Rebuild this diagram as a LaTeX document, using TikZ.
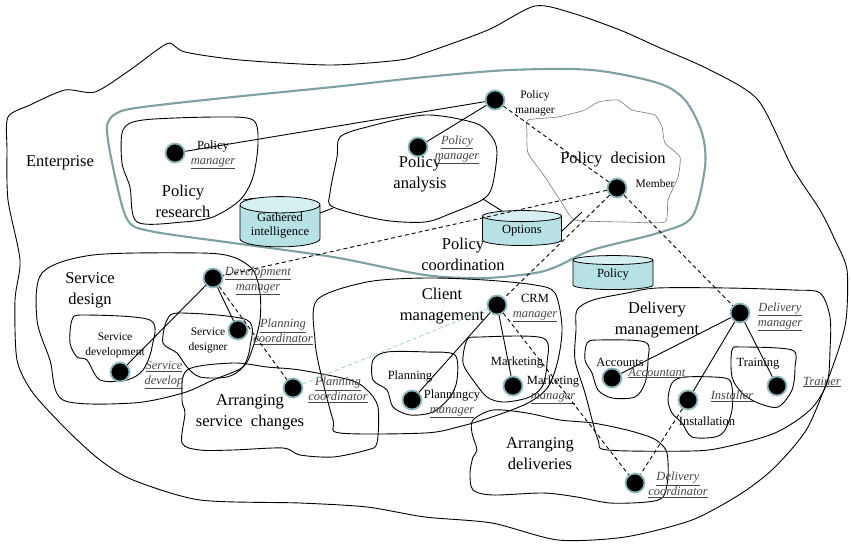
\documentclass[tikz,border=0pt]{standalone}
\usepackage{fontspec}
\setmainfont{Liberation Serif}
\usetikzlibrary{shapes.geometric}

\definecolor{halo}{RGB}{140,185,190}
\definecolor{coord}{RGB}{125,160,163}
\definecolor{cylbody}{RGB}{183,225,229}
\definecolor{cyltop}{RGB}{214,239,241}
\definecolor{softdash}{RGB}{165,212,218}
\definecolor{rolegrey}{RGB}{70,70,70}
\definecolor{decgrey}{RGB}{120,120,120}

\newcommand{\rolename}[1]{\underline{\textit{#1}}}

\tikzset{
  area/.style={draw=black, line width=0.9pt, line join=round},
  thinarea/.style={draw=decgrey, line width=0.6pt, line join=round},
  coordarea/.style={draw=coord, line width=2.1pt, line join=round},
  actor/.style={circle, fill=black, draw=halo, line width=1.8pt, minimum size=19pt, inner sep=0pt},
  store/.style={cylinder, shape border rotate=90, aspect=0.28, draw=black, line width=0.8pt,
    cylinder uses custom fill, cylinder body fill=cylbody, cylinder end fill=cyltop,
    minimum width=80pt, minimum height=34pt, inner sep=0pt, align=center,
    font=\fontsize{12.5}{14}\selectfont},
  bigtxt/.style={align=center, inner sep=0pt, font=\fontsize{16.5}{21}\selectfont},
  smalltxt/.style={align=center, inner sep=0pt, font=\fontsize{12.5}{15}\selectfont},
  roletxt/.style={align=center, inner sep=0pt, text=rolegrey, font=\fontsize{12.5}{15}\selectfont},
  link/.style={draw=black, line width=0.9pt},
  duty/.style={draw=black, line width=0.9pt, dash pattern=on 4pt off 3pt},
  softlink/.style={draw=softdash, line width=0.9pt, dash pattern=on 4pt off 3pt},
}

\begin{document}
\begin{tikzpicture}[x=1pt, y=-1pt]
\useasboundingbox[fill=white] (0,0) rectangle (851,547);

% ---- enterprise boundary ----
\draw[area, smooth cycle, tension=0.45] plot coordinates {
 (8,117) (30,105) (65,90) (95,92) (130,70) (157,50) (170,43) (185,52) (240,60) (330,65)
 (400,60) (425,53) (488,30) (535,6) (572,13) (620,30) (658,47) (710,70) (758,100)
 (792,167) (820,210) (835,240) (847,270) (846,320) (835,360) (808,427) (775,467)
 (742,493) (692,520) (625,537) (558,540) (492,523) (425,517) (367,507) (300,503)
 (200,500) (133,480) (100,460) (67,430) (33,393) (17,360) (15,300) (20,260) (8,200) (7,150)};

% ---- policy coordination ----
\draw[coordarea, smooth cycle, tension=0.5] plot coordinates {
 (107,127) (117,113) (143,107) (233,97) (333,87) (425,77) (510,70) (592,70) (658,83)
 (685,100) (702,133) (705,167) (692,217) (658,233) (592,250) (558,266) (535,273)
 (485,278) (425,275) (333,257) (233,243) (150,231) (127,219) (113,167)};

\draw[area, smooth cycle, tension=0.5] plot coordinates {
 (123,130) (143,120) (217,117) (253,120) (258,143) (253,177) (240,200) (213,217)
 (183,222) (137,222) (130,187) (122,163)};
\draw[area, smooth cycle, tension=0.5] plot coordinates {
 (340,137) (367,127) (425,115) (475,123) (492,137) (497,153) (492,187) (482,200)
 (452,213) (425,222) (383,220) (333,207) (330,193) (337,157)};
\draw[thinarea, smooth cycle, tension=0.3] plot coordinates {
 (528,120) (558,117) (585,110) (598,102) (618,100) (632,110) (655,115) (662,127)
 (665,143) (680,157) (678,177) (668,200) (665,222) (625,222) (575,220) (562,203)
 (545,177) (528,153) (527,133)};

% ---- service design ----
\draw[area, smooth cycle, tension=0.5] plot coordinates {
 (42,273) (93,255) (200,253) (233,257) (253,270) (260,293) (260,320) (253,347)
 (243,367) (213,380) (183,393) (133,403) (63,400) (50,360) (37,320)};
\draw[area, smooth cycle, tension=0.5] plot coordinates {
 (70,343) (72,320) (83,315) (150,320) (152,347) (143,370) (127,380) (100,380)
 (87,360) (77,357)};
\draw[area, smooth cycle, tension=0.5] plot coordinates {
 (163,343) (167,320) (180,313) (247,320) (250,347) (243,367) (227,377) (200,377)
 (187,367) (177,353)};
\draw[area, smooth cycle, tension=0.5] plot coordinates {
 (182,400) (187,370) (233,363) (267,367) (300,370) (350,380) (367,390) (378,407)
 (377,443) (367,450) (333,457) (300,455) (283,448) (233,450) (200,450) (182,443) (185,413)};

% ---- client management ----
\draw[area, smooth cycle, tension=0.5] plot coordinates {
 (317,300) (367,282) (425,278) (485,280) (535,285) (555,293) (562,327) (558,360)
 (548,387) (528,403) (492,417) (458,427) (425,433) (340,433) (333,420) (320,370) (315,340)};
\draw[area, smooth cycle, tension=0.5] plot coordinates {
 (373,380) (373,360) (387,352) (427,352) (455,355) (457,380) (450,397) (433,412)
 (410,415) (393,407) (387,390)};
\draw[area, smooth cycle, tension=0.5] plot coordinates {
 (463,363) (467,340) (480,337) (543,338) (547,363) (542,387) (527,398) (503,402)
 (487,397) (473,380)};

% ---- delivery management ----
\draw[area, smooth cycle, tension=0.5] plot coordinates {
 (577,310) (593,300) (627,293) (657,288) (727,288) (793,290) (820,293) (830,317)
 (830,350) (827,383) (810,410) (775,433) (725,447) (692,451) (608,450) (598,440)
 (585,393) (575,360) (576,330)};
\draw[area, smooth cycle, tension=0.5] plot coordinates {
 (585,360) (587,343) (598,340) (645,342) (648,360) (645,383) (635,397) (612,398)
 (598,390) (592,373)};
\draw[area, smooth cycle, tension=0.5] plot coordinates {
 (668,400) (672,383) (685,377) (725,378) (732,387) (732,410) (725,430) (715,437)
 (692,437) (682,423) (672,413)};
\draw[area, smooth cycle, tension=0.5] plot coordinates {
 (732,377) (732,350) (742,347) (792,350) (795,367) (792,390) (778,407) (758,403) (742,393)};
\draw[area, smooth cycle, tension=0.5] plot coordinates {
 (473,420) (493,410) (527,413) (560,420) (593,423) (627,430) (650,437) (660,443)
 (667,453) (668,477) (663,497) (647,502) (610,503) (577,497) (543,493) (493,495)
 (473,490) (470,473) (473,457) (477,450) (472,433)};

% ---- information stores ----
\node[store] (gath) at (280,226) {Gathered\\intelligence};
\node[store, minimum width=79pt, minimum height=35pt] (opts) at (522,231) {Options};
\node[store] (pol) at (613,275) {Policy};

\coordinate (resEdge) at (243,200);
\coordinate (anaEdgeL) at (333,208);
\coordinate (anaEdgeR) at (483,199);
\coordinate (decEdge) at (582,212);
\coordinate (gathR) at (320,213);
\draw[link] (resEdge) -- (gath.north west);
\draw[link] (gathR) -- (anaEdgeL);
\draw[link] (anaEdgeR) -- (opts.north west);
\draw[link] (opts.east) -- (decEdge);

% ---- region titles ----
\node[bigtxt] (tEnt) at (60,163) {Enterprise};
\node[bigtxt] (tRes) at (183,201) {Policy\\research};
\node[bigtxt] (tAna) at (420,174) {Policy\\analysis};
\node[bigtxt] (tDec) at (613,160) {Policy\ \ decision};
\node[bigtxt] (tCoo) at (463,254) {Policy\\coordination};
\node[bigtxt] (tSd) at (90,290) {Service\\design};
\node[bigtxt] (tAsc) at (250,412) {Arranging\\service\ \ changes};
\node[bigtxt] (tCli) at (442,306) {Client\\management};
\node[bigtxt] (tDel) at (657,320) {Delivery\\management};
\node[bigtxt] (tArd) at (540,454) {Arranging\\deliveries};
\node[smalltxt, font=\fontsize{11.5}{15}\selectfont] (tSdv) at (115,345) {Service\\development};
\node[smalltxt, font=\fontsize{11.5}{15}\selectfont] (tSdr) at (208,340) {Service\\designer};
\node[smalltxt] (tPla) at (410,377) {Planning};
\node[smalltxt] (tMkt) at (517,363) {Marketing};
\node[smalltxt] (tAcc) at (620,362) {Accounts};
\node[smalltxt] (tIns) at (707,421) {Installation};
\node[smalltxt] (tTrn) at (758,364) {Training};

% ---- actors ----
\node[actor] (pm)  at (495,100) {};
\node[actor] (prm) at (175,153) {};
\node[actor] (pam) at (418,147) {};
\node[actor] (mem) at (617,188) {};
\node[actor] (dev) at (213,278) {};
\node[actor] (sdv) at (120,372) {};
\node[actor] (sdr) at (238,330) {};
\node[actor] (pco) at (293,388) {};
\node[actor] (crm) at (497,305) {};
\node[actor] (pla) at (412,400) {};
\node[actor] (mkt) at (513,386) {};
\node[actor] (dlm) at (740,313) {};
\node[actor] (acc) at (612,378) {};
\node[actor] (ins) at (688,400) {};
\node[actor] (trn) at (777,386) {};
\node[actor] (dco) at (635,483) {};

% ---- role labels ----
\node[smalltxt, font=\fontsize{11.5}{15}\selectfont] (lpm) at (535,103) {Policy\\manager};
\node[roletxt] (lprm) at (213,155) {\textcolor{black}{Policy}\\\rolename{manager}};
\node[roletxt] (lpam) at (457,150) {\rolename{Policy}\\\rolename{manager}};
\node[smalltxt, font=\fontsize{11.5}{15}\selectfont] (lmem) at (655,184) {Member};
\node[roletxt] (ldev) at (258,281) {\rolename{Development}\\\rolename{manager}};
\node[roletxt] (lsdv) at (164,375) {\rolename{Service}\\\rolename{develop}};
\node[roletxt] (lsdr) at (283,332) {\rolename{Planning}\\\rolename{coordinator}};
\node[roletxt] (lpco) at (338,390) {\rolename{Planning}\\\rolename{coordinator}};
\node[roletxt] (lcrm) at (535,308) {\textcolor{black}{CRM}\\\rolename{manager}};
\node[roletxt] (lpla) at (452,404) {\textcolor{black}{Planningcy}\\\rolename{manager}};
\node[roletxt] (lmkt) at (553,390) {\textcolor{black}{Marketing}\\\rolename{manager}};
\node[roletxt] (ldlm) at (780,317) {\rolename{Delivery}\\\rolename{manager}};
\node[roletxt] (lacc) at (657,373) {\rolename{Accountant}};
\node[roletxt] (lins) at (732,396) {\rolename{Installer}};
\node[roletxt] (ltrn) at (822,382) {\rolename{Trainer}};
\node[roletxt] (ldco) at (678,485) {\rolename{Delivery}\\\rolename{coordinator}};

% ---- management links ----
\draw[link] (pm) -- (prm);
\draw[link] (pm) -- (pam);
\draw[link] (dev) -- (sdv);
\draw[link] (dev) -- (sdr);
\draw[link] (crm) -- (pla);
\draw[link] (crm) -- (mkt);
\draw[link] (dlm) -- (acc);
\draw[link] (dlm) -- (ins);
\draw[link] (dlm) -- (trn);

% ---- coordination links ----
\draw[duty] (pm) -- (mem);
\draw[duty] (mem) -- (dlm);
\draw[duty] (mem) -- (dev);
\draw[duty] (mem) -- (crm);
\draw[duty] (dev) -- (pco);
\draw[duty] (crm) -- (dco);
\draw[duty] (ins) -- (dco);
\draw[softlink] (pco) -- (crm);
\end{tikzpicture}
\end{document}
